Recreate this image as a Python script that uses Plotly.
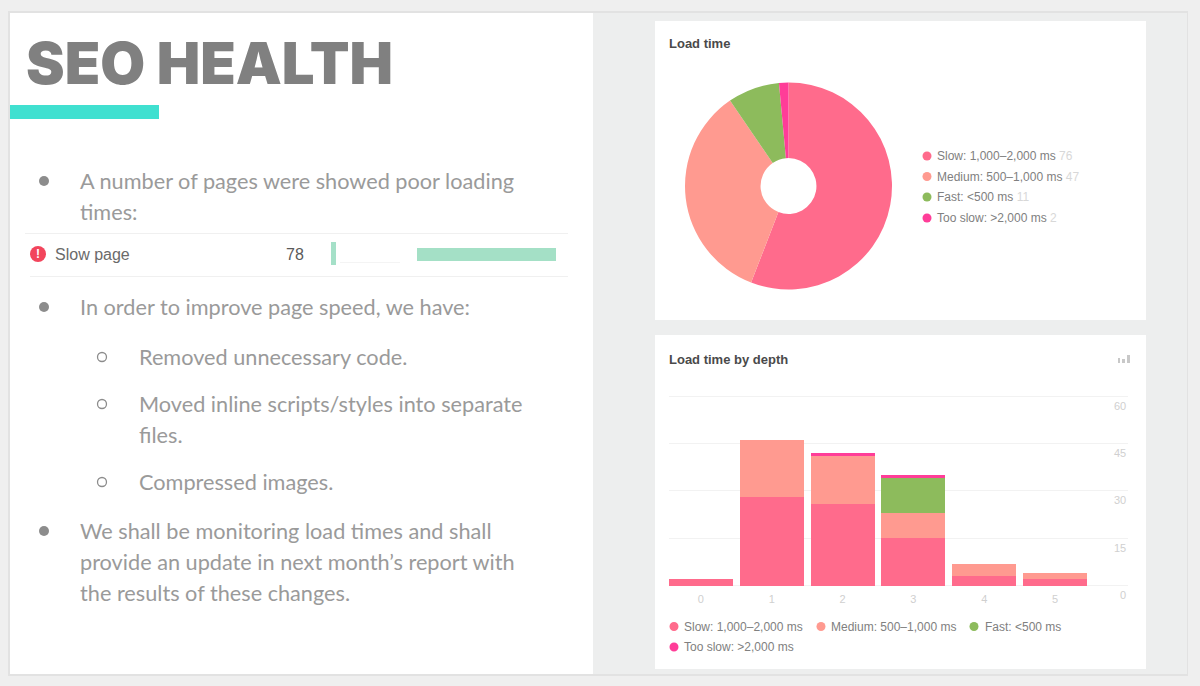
import plotly.graph_objects as go

W, H = 1200, 686

# ---- data ----
depths = ["0", "1", "2", "3", "4", "5"]
slow = [2, 28, 26, 15, 3, 2]
medium = [0, 18, 15, 8, 4, 2]
fast = [0, 0, 0, 11, 0, 0]
too_slow = [0, 0, 1, 1, 0, 0]
y_ticks = [0, 15, 30, 45, 60]

pie_labels = ["Slow: 1,000–2,000 ms", "Medium: 500–1,000 ms", "Fast: <500 ms", "Too slow: >2,000 ms"]
pie_values = [76, 47, 11, 2]
series_colors = ["#FF6B8C", "#FF9A90", "#8DBB5C", "#FF3D98"]

title_text = "SEO HEALTH"
body_lines = [
    (80, 181, "A number of pages were showed poor loading"),
    (80, 212, "times:"),
    (80, 307, "In order to improve page speed, we have:"),
    (139, 357, "Removed unnecessary code."),
    (139, 404, "Moved inline scripts/styles into separate"),
    (139, 435, "files."),
    (139, 482, "Compressed images."),
    (80, 531, "We shall be monitoring load times and shall"),
    (80, 562, "provide an update in next month’s report with"),
    (80, 593, "the results of these changes."),
]
filled_bullets = [181, 307, 531]
hollow_bullets = [357, 404, 482]


def px(x):
    return x / W


def py(y):
    return 1 - y / H


shapes = []
annotations = []


def rect(x0, y0, x1, y1, color):
    shapes.append(dict(type="rect", xref="paper", yref="paper", x0=px(x0), x1=px(x1), y0=py(y0), y1=py(y1),
                       fillcolor=color, line=dict(width=0), layer="below"))


def dot(cx, cy, r, color, hollow=False):
    shapes.append(dict(type="circle", xref="paper", yref="paper", x0=px(cx - r), x1=px(cx + r), y0=py(cy + r), y1=py(cy - r),
                       fillcolor="rgba(0,0,0,0)" if hollow else color,
                       line=dict(width=1.3 if hollow else 0, color=color), layer="below"))


def text(x, y, s, size, color, family="Liberation Sans", anchor="left", weight=None):
    f = dict(size=size, color=color, family=family)
    if weight:
        f["weight"] = weight
    annotations.append(dict(xref="paper", yref="paper", x=px(x), y=py(y), text=s, showarrow=False,
                            xanchor=anchor, yanchor="middle", font=f, borderpad=0, borderwidth=0))


# backgrounds
rect(0, 0, W, H, "#EFEFEF")
rect(8, 11, 1188, 676, "#E2E2E2")
rect(10, 13, 1187, 674, "#EDEEEE")
rect(10, 13, 593, 674, "#FFFFFF")
rect(655, 21, 1146, 320, "#FFFFFF")
rect(655, 335, 1146, 669, "#FFFFFF")

# left panel
text(26, 63, title_text, 58, "#808080", family="Inter", weight=900)
rect(10, 105, 159, 119, "#40E0D0")
for x, y, s in body_lines:
    text(x, y, s, 21.7, "#9A9A9A", family="Lato")
for y in filled_bullets:
    dot(44, y, 5, "#8C8C8C")
for y in hollow_bullets:
    dot(102, y, 4.5, "#8C8C8C", hollow=True)

# slow page row
rect(25, 233, 568, 234, "#F0F0F0")
rect(30, 276, 568, 277, "#F0F0F0")
dot(38, 254, 8, "#F2455C")
text(38, 254, "<b>!</b>", 12, "#FFFFFF", anchor="center")
text(55, 254, "Slow page", 16, "#6A6A6A")
text(294.5, 254, "78", 16, "#5A5A5A", anchor="center")
rect(331, 242, 336, 265, "#A5E0C8")
rect(340, 262, 400, 263, "#F4F4F4")
rect(417, 248, 556, 261, "#A4E0C6")

# card titles
text(669, 44, "<b>Load time</b>", 13, "#4A4A4A")
text(669, 359, "<b>Load time by depth</b>", 13, "#4A4A4A")

# chart icon
rect(1118, 358, 1120, 363, "#C8C8C8")
rect(1122, 359, 1125, 363, "#C8C8C8")
rect(1127, 355, 1130, 363, "#C8C8C8")

# pie legend
legend_rows = [156, 176.5, 197, 218]
for y, lab, val, c in zip(legend_rows, pie_labels, pie_values, series_colors):
    dot(927, y, 4.5, c)
    text(937, y, f"{lab} <span style='color:#D8D8D8'>{val}</span>", 12, "#808080")

# bar legend
bar_legend_pos = [(674, 684, 626.5), (821, 831, 626.5), (974, 985, 626.5), (674, 684, 647)]
for (cx, tx, y), lab, c in zip(bar_legend_pos, pie_labels, series_colors):
    dot(cx, y, 4.5, c)
    text(tx, y, lab, 12, "#808080")

# y tick labels hang below their gridlines, as in the reference
for t in y_ticks:
    annotations.append(dict(xref="x domain", yref="y", x=1, y=t, text=str(t), showarrow=False, xanchor="right",
                            yanchor="middle", yshift=-9.5, font=dict(size=11, color="#D0D0D0", family="Liberation Sans")))

fig = go.Figure()
fig.add_trace(go.Pie(labels=pie_labels, values=pie_values, sort=False, direction="clockwise", rotation=0,
                     hole=0.27, textinfo="none", showlegend=False,
                     marker=dict(colors=series_colors, line=dict(color="#FFFFFF", width=0)),
                     domain=dict(x=[px(685), px(892)], y=[py(289.5), py(82.5)])))

for name, vals, c in zip(pie_labels, [slow, medium, fast, too_slow], series_colors):
    fig.add_trace(go.Bar(x=depths, y=vals, name=name, marker=dict(color=c, line=dict(width=0)), showlegend=False))

fig.update_layout(
    width=W, height=H, margin=dict(l=0, r=0, t=0, b=0), autosize=False,
    paper_bgcolor="#FFFFFF", plot_bgcolor="rgba(0,0,0,0)",
    barmode="stack", bargap=0.096, showlegend=False,
    shapes=shapes, annotations=annotations,
    xaxis=dict(domain=[px(669), px(1128)], anchor="y", type="category", range=[-0.45, 6.03],
               showgrid=False, zeroline=False, showline=False, ticks="",
               tickfont=dict(size=11, color="#CFCFCF", family="Liberation Sans"), ticklabelstandoff=2),
    yaxis=dict(domain=[py(588.86), py(392.84)], anchor="x", range=[-1, 61], tickvals=y_ticks, showticklabels=False,
               showgrid=True, gridcolor="#F2F2F2", gridwidth=1, zeroline=False, showline=False, ticks=""),
)

fig.write_html("out.html", config=dict(displayModeBar=False),
               post_script="document.body.style.margin='0';document.documentElement.style.overflow='hidden';")
